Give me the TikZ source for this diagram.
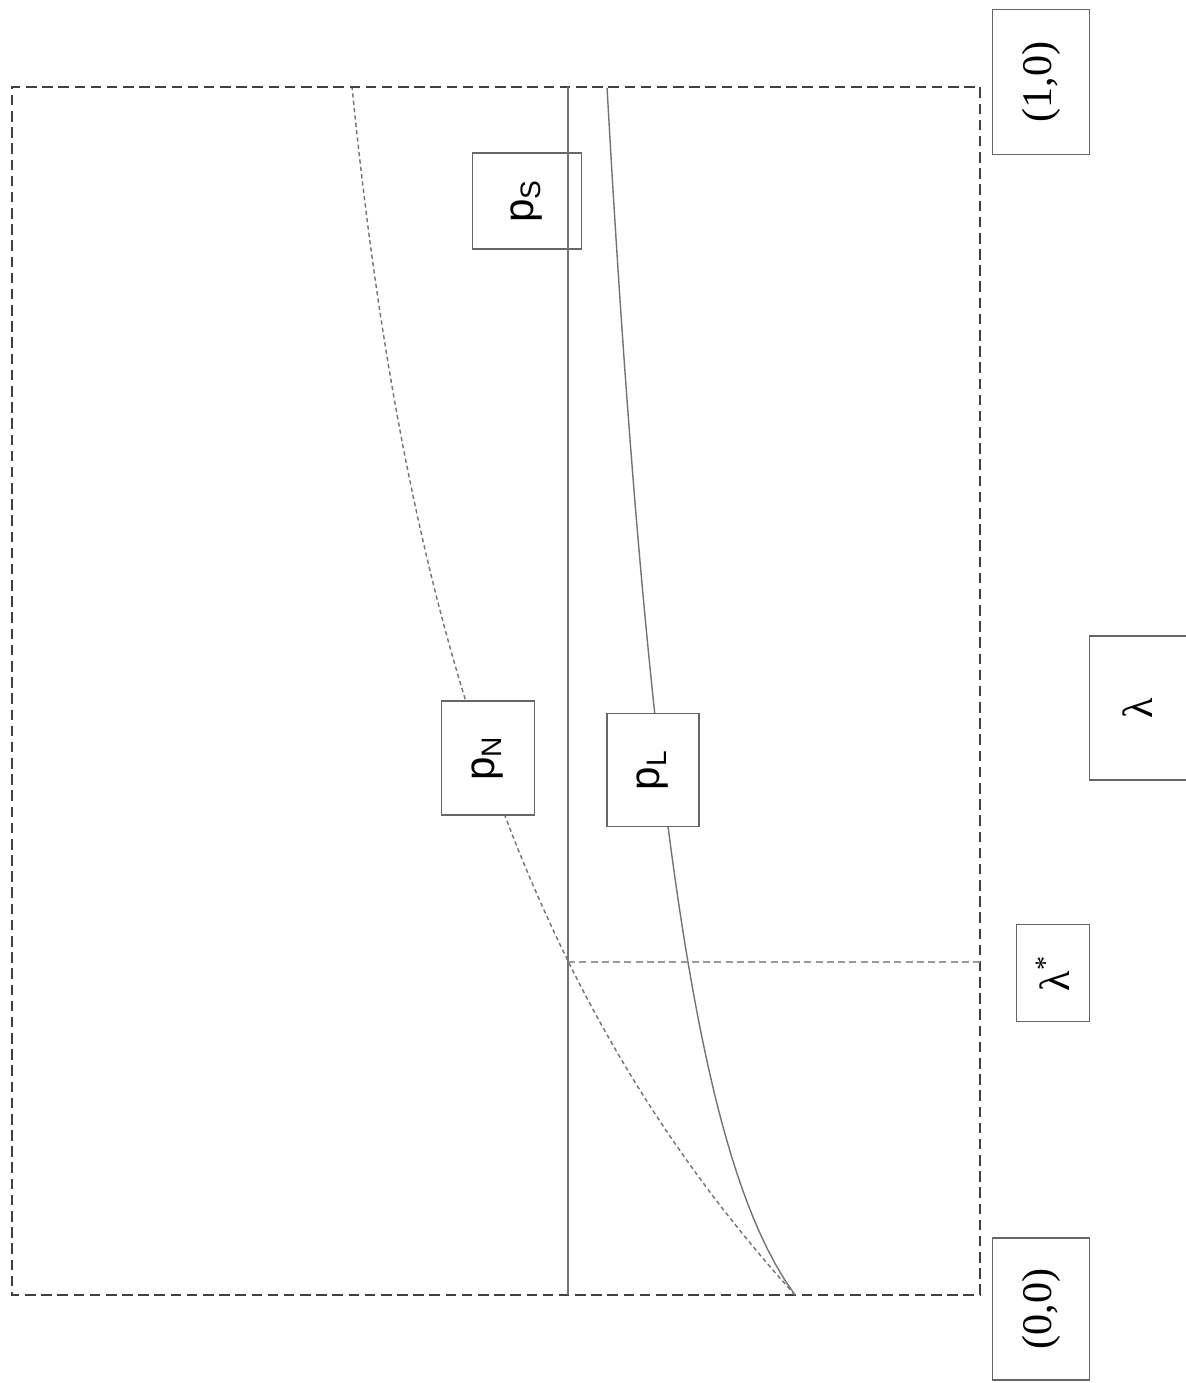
\documentclass[tikz,border=0pt]{standalone}
\usepackage{fontspec}
\setmainfont{Liberation Serif}
\newfontfamily\plabelfont{Liberation Sans}
\usetikzlibrary{positioning}

\begin{document}
\begin{tikzpicture}[
    x=0.01cm, y=-0.01cm,
    frame/.style={draw=black!75, line width=0.8pt, dash pattern=on 3pt off 1.6pt},
    curve/.style={draw=black!55, line width=0.4pt},
    tag/.style={rectangle, draw=black!60, fill=white, line width=0.5pt, rotate=90, inner sep=0pt, align=center, font=\fontsize{12}{14}\selectfont},
    ptag/.style={tag, font=\plabelfont\fontsize{12}{14}\selectfont}
]
    \useasboundingbox (0,0) rectangle (1185,1383);

    % corners of the plot region (origin bottom right)
    \coordinate (O) at (980,1295);
    \coordinate (E) at (980,87);
    \coordinate (TL) at (12,87);
    \coordinate (BL) at (12,1295);
    \draw[frame] (O) -- (E) -- (TL) -- (BL) -- cycle;

    % p_N curve
    \draw[curve, dash pattern=on 1.2pt off 0.9pt] plot[domain=0:1, samples=80, variable=\t]
        ({795-443*(1-exp(-2.2*\t))/(1-exp(-2.2))}, {1295-1208*\t});

    % p_L curve
    \draw[curve] plot[domain=0:1, samples=80, variable=\t]
        ({795-188*ln(1+12*\t)/ln(13)}, {1295-1208*\t});

    % lambda star
    \coordinate (X) at (568,962);
    \coordinate (Xa) at (980,962);
    \draw[draw=black!40, line width=0.7pt, dash pattern=on 2pt off 1.2pt] (X) -- (Xa);

    % labels
    \node[tag, minimum width=1.42cm, minimum height=0.97cm] (orig) at (1041,1309) {(0,0)};
    \node[tag, minimum width=1.45cm, minimum height=0.97cm] (one) at (1041,82) {(1,0)};
    \node[tag, minimum width=1.44cm, minimum height=0.97cm] (lam) at (1138,708) {λ};
    \node[tag, minimum width=0.97cm, minimum height=0.73cm] (lamstar) at (1053,973) {λ\textsuperscript{*}};
    \node[ptag, fill=none, minimum width=0.96cm, minimum height=1.09cm] (pS) at (527,201) {p\textsubscript{S}};
    \node[ptag, minimum width=1.14cm, minimum height=0.93cm] (pN) at (488,758) {p\textsubscript{N}};
    \node[ptag, minimum width=1.13cm, minimum height=0.92cm] (pL) at (653,770) {p\textsubscript{L}};

    % p_S level (runs through its own label)
    \coordinate (S0) at (568,1295);
    \coordinate (S1) at (568,87);
    \draw[curve, line width=0.6pt] (S0) -- (S1);

\end{tikzpicture}
\end{document}
